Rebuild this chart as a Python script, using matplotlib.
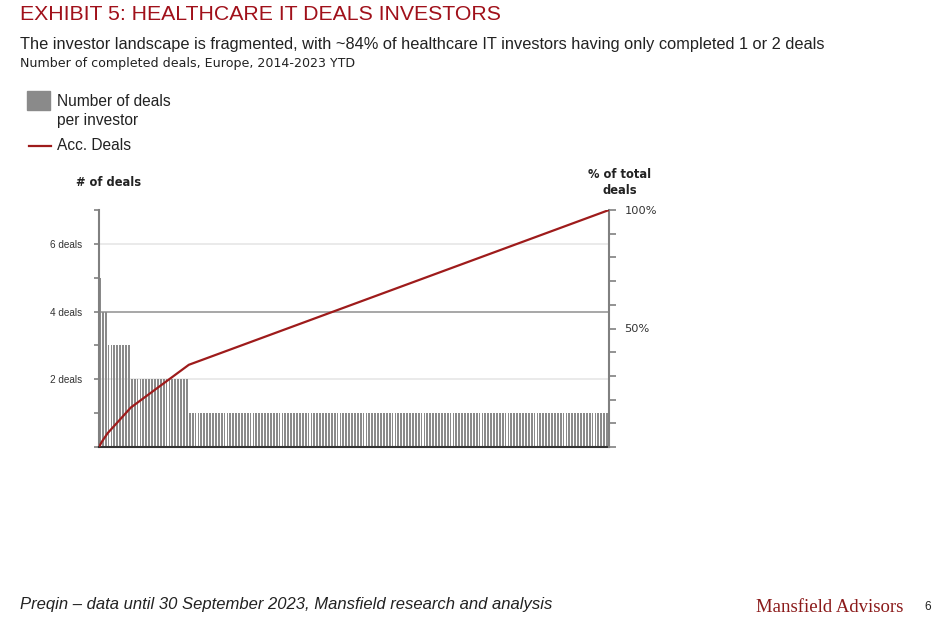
import matplotlib
matplotlib.use("Agg")
import matplotlib.pyplot as plt
import numpy as np
from matplotlib.patches import Rectangle
from matplotlib.lines import Line2D

# ---- data ----
deal_levels = [5, 4, 3, 2, 1]          # deals per investor
investor_counts = [1, 2, 8, 20, 145]   # number of investors at each level
left_ticks = [0, 1, 2, 3, 4, 5, 6, 7]
left_labels = ["", "", "2 deals", "", "4 deals", "", "6 deals", ""]
right_ticks = [0, 10, 20, 30, 40, 50, 60, 70, 80, 90, 100]
right_labels = ["", "", "", "", "", "50%", "", "", "", "", "100%"]

deals = np.repeat(deal_levels, investor_counts)
n = len(deals)
cum_pct = np.concatenate([[0], np.cumsum(deals) / deals.sum() * 100])

RED = "#9E1B1B"
GREY = "#8a8a8a"

fig = plt.figure(figsize=(9.4, 6.25), dpi=100)
ax = fig.add_axes([99/940, 1-447/625, (609-99)/940, (447-210)/625])

ax.bar(np.arange(n), deals, width=0.62, align="edge", color=GREY, zorder=2)
ax.set_xlim(0, n)
ax.set_ylim(0, 7)
ax.set_xticks([])
ax.set_yticks(left_ticks)
ax.set_yticklabels(left_labels, fontsize=7.2, family="Liberation Sans", color="#333333")
ax.tick_params(axis="y", length=3.8, width=1.2, color="#808080", pad=8)
for yv, c in [(2, "#e4e4e4"), (6, "#e4e4e4"), (4, "#8f8f8f")]:
    ax.axhline(yv, color=c, lw=1.1, zorder=0)
for s in ["top", "right"]:
    ax.spines[s].set_visible(False)
ax.spines["left"].set_color("#808080")
ax.spines["left"].set_linewidth(1.5)
ax.spines["bottom"].set_color("#333333")
ax.spines["bottom"].set_linewidth(1.5)

ax2 = ax.twinx()
ax2.plot(np.arange(n + 1), cum_pct, color=RED, lw=1.6, zorder=3)
ax2.set_ylim(0, 100)
ax2.set_yticks(right_ticks)
ax2.set_yticklabels(right_labels, fontsize=8.2, family="DejaVu Sans", color="#333333")
ax2.tick_params(axis="y", length=5, width=1.2, color="#808080", pad=6)
for s in ["top", "left", "bottom"]:
    ax2.spines[s].set_visible(False)
ax2.spines["right"].set_color("#808080")
ax2.spines["right"].set_linewidth(1.5)

# axis titles
fig.text(109/940, 1-182/625, "# of deals", fontsize=8.3, fontweight="bold",
         family="DejaVu Sans", ha="center", va="center", color="#222222")
fig.text(620/940, 1-182.5/625, "% of total\ndeals", fontsize=8.3, fontweight="bold",
         family="DejaVu Sans", ha="center", va="center", color="#222222", linespacing=1.3)

# titles
fig.text(20/940, 1-14/625, "EXHIBIT 5: HEALTHCARE IT DEALS INVESTORS", fontsize=15.3,
         family="Liberation Sans", color="#A0101A", va="center")
fig.text(20/940, 1-44/625,
         "The investor landscape is fragmented, with ~84% of healthcare IT investors having only completed 1 or 2 deals",
         fontsize=11.8, family="Liberation Sans", color="#222222", va="center")
fig.text(20/940, 1-64/625, "Number of completed deals, Europe, 2014-2023 YTD",
         fontsize=9.1, family="DejaVu Sans", color="#222222", va="center")

# legend
fig.patches.append(Rectangle((27/940, 1-110/625), 23/940, 19/625, transform=fig.transFigure,
                             color=GREY, figure=fig))
fig.text(57/940, 1-101/625, "Number of deals", fontsize=11.2, family="Liberation Sans",
         color="#222222", va="center", ha="left")
fig.text(57/940, 1-121/625, "per investor", fontsize=11.2, family="Liberation Sans",
         color="#222222", va="center", ha="left")
fig.lines.append(Line2D([29/940, 51/940], [1-146/625, 1-146/625], transform=fig.transFigure,
                        color=RED, lw=1.6))
fig.text(57/940, 1-146/625, "Acc. Deals", fontsize=11.2, family="Liberation Sans",
         color="#222222", va="center", ha="left")

# footer
fig.text(20/940, 1-605/625, "Preqin \u2013 data until 30 September 2023, Mansfield research and analysis",
         fontsize=12, style="italic", family="Liberation Sans",
         color="#222222", va="center")
fig.text(903/940, 1-607/625, "Mansfield Advisors", fontsize=13.5, family="Liberation Serif",
         color="#8B1A1A", va="center", ha="right")
fig.text(924/940, 1-607/625, "6", fontsize=8.5, family="Liberation Sans", color="#222222", va="center")

fig.savefig("out.png", dpi=100)
